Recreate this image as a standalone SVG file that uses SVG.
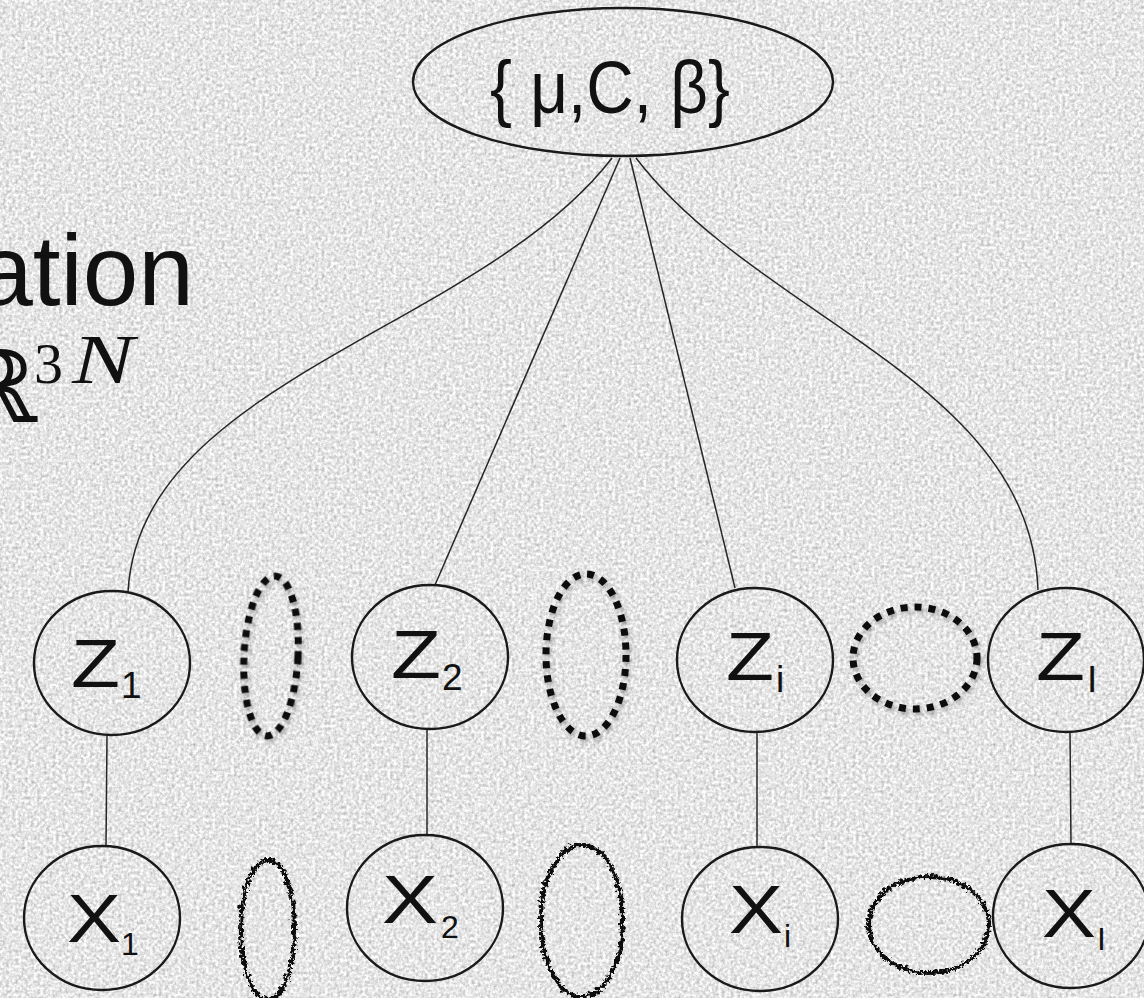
<svg xmlns="http://www.w3.org/2000/svg" width="1144" height="998" viewBox="0 0 1144 998">
  <defs>
    <!-- speckled paper background -->
    <filter id="grain" x="0" y="0" width="100%" height="100%" color-interpolation-filters="sRGB">
      <feTurbulence type="fractalNoise" baseFrequency="0.32" numOctaves="3" seed="7" result="noise"/>
      <feColorMatrix in="noise" type="saturate" values="0" result="gray"/>
      <feComponentTransfer in="gray">
        <feFuncR type="linear" slope="0.6" intercept="0.6"/>
        <feFuncG type="linear" slope="0.6" intercept="0.6"/>
        <feFuncB type="linear" slope="0.6" intercept="0.6"/>
        <feFuncA type="linear" slope="0" intercept="1"/>
      </feComponentTransfer>
    </filter>
    <!-- rough hand-traced outline -->
    <filter id="rough" x="-30%" y="-30%" width="160%" height="160%">
      <feTurbulence type="turbulence" baseFrequency="0.22" numOctaves="2" seed="4" result="t"/>
      <feDisplacementMap in="SourceGraphic" in2="t" scale="7" xChannelSelector="R" yChannelSelector="G"/>
    </filter>
    <!-- soft shadow under dotted outlines -->
    <filter id="shade" x="-30%" y="-30%" width="160%" height="160%">
      <feDropShadow dx="2" dy="3" stdDeviation="2" flood-color="#000" flood-opacity="0.3"/>
    </filter>
    <style>
      .node { fill: none; stroke: #1a1a1a; stroke-width: 2.4; }
      .edge { fill: none; stroke: #262626; stroke-width: 1.5; }
      .dots { fill: none; stroke: #0d0d0d; stroke-width: 7; stroke-dasharray: 7 7; filter: url(#shade); }
      .rough { fill: none; stroke: #0d0d0d; stroke-width: 4; filter: url(#rough); }
      .lbl { font-family: "Liberation Sans", Arial, sans-serif; fill: #111; }
      .big { font-size: 68px; }
      .subz { font-size: 37px; }
      .subx { font-size: 32px; }
    </style>
  </defs>

  <rect width="1144" height="998" fill="#e4e4e4"/>
  <rect width="1144" height="998" filter="url(#grain)"/>

  <!-- partial title and space label at the left edge -->
  <g id="title">
    <text class="lbl" x="194" y="305" text-anchor="end" font-size="100">ation</text>
    <text x="-46" y="422" font-family="DejaVu Serif, 'Liberation Serif', serif" font-size="100" fill="#111">ℝ</text>
    <text y="383" font-family="'Liberation Serif', serif" fill="#111"><tspan x="34" font-size="58">3</tspan><tspan x="72" font-size="70" font-style="italic" textLength="62" lengthAdjust="spacingAndGlyphs">N</tspan></text>
  </g>

  <!-- connectors -->
  <g id="connectors">
    <path class="edge" d="M612 158 C480 330 140 380 128 592"/>
    <path class="edge" d="M620 158 L435 585"/>
    <path class="edge" d="M630 158 L735 588"/>
    <path class="edge" d="M636 158 C760 320 1030 380 1038 590"/>
    <path class="edge" d="M107 735 L106 847"/>
    <path class="edge" d="M427 728 L427 835"/>
    <path class="edge" d="M757 732 L757 847"/>
    <path class="edge" d="M1070 732 L1071 845"/>
  </g>

  <g id="params">
    <ellipse class="node" cx="623" cy="82" rx="210" ry="74"/>
    <text class="lbl" x="490" y="113" font-size="74" textLength="240" lengthAdjust="spacingAndGlyphs">{ μ,C, β}</text>
  </g>

  <g id="z1">
    <ellipse class="node" cx="112" cy="663" rx="78" ry="72"/>
    <text class="lbl big" x="71" y="687" textLength="49" lengthAdjust="spacingAndGlyphs">Z</text>
    <text class="lbl subz" x="121" y="698">1</text>
  </g>
  <g id="z2">
    <ellipse class="node" cx="430" cy="657" rx="78" ry="72"/>
    <text class="lbl big" x="391" y="678" textLength="50" lengthAdjust="spacingAndGlyphs">Z</text>
    <text class="lbl subz" x="442" y="690">2</text>
  </g>
  <g id="zi">
    <ellipse class="node" cx="755" cy="660" rx="78" ry="72"/>
    <text class="lbl big" x="726" y="680" textLength="48" lengthAdjust="spacingAndGlyphs">Z</text>
    <text class="lbl subz" x="776" y="692">i</text>
  </g>
  <g id="zI">
    <ellipse class="node" cx="1066" cy="660" rx="78" ry="72"/>
    <text class="lbl big" x="1036" y="680" textLength="49" lengthAdjust="spacingAndGlyphs">Z</text>
    <text class="lbl subz" x="1087" y="692">I</text>
  </g>

  <g id="x1">
    <ellipse class="node" cx="102" cy="918" rx="78" ry="72"/>
    <text class="lbl big" x="67" y="942" textLength="54" lengthAdjust="spacingAndGlyphs">X</text>
    <text class="lbl subx" x="121" y="955">1</text>
  </g>
  <g id="x2">
    <ellipse class="node" cx="425" cy="908" rx="78" ry="73"/>
    <text class="lbl big" x="382" y="923" textLength="56" lengthAdjust="spacingAndGlyphs">X</text>
    <text class="lbl subx" x="441" y="938">2</text>
  </g>
  <g id="xi">
    <ellipse class="node" cx="760" cy="919" rx="78" ry="72"/>
    <text class="lbl big" x="729" y="933" textLength="54" lengthAdjust="spacingAndGlyphs">X</text>
    <text class="lbl subx" x="784" y="947">i</text>
  </g>
  <g id="xI">
    <ellipse class="node" cx="1071" cy="916" rx="78" ry="72"/>
    <text class="lbl big" x="1042" y="937" textLength="54" lengthAdjust="spacingAndGlyphs">X</text>
    <text class="lbl subx" x="1097" y="950">I</text>
  </g>

  <!-- dotted outlines between latent nodes -->
  <g id="dotted">
    <ellipse class="dots" cx="271" cy="656" rx="27" ry="80" transform="rotate(3 271 656)"/>
    <ellipse class="dots" cx="586" cy="655" rx="40" ry="81"/>
    <ellipse class="dots" cx="915" cy="658" rx="62" ry="51"/>
  </g>

  <!-- rough outlines between observed nodes -->
  <g id="rough">
    <ellipse class="rough" cx="266" cy="928" rx="27" ry="70"/>
    <ellipse class="rough" cx="580" cy="919" rx="41" ry="76"/>
    <ellipse class="rough" cx="927" cy="923" rx="60" ry="48"/>
  </g>
</svg>
